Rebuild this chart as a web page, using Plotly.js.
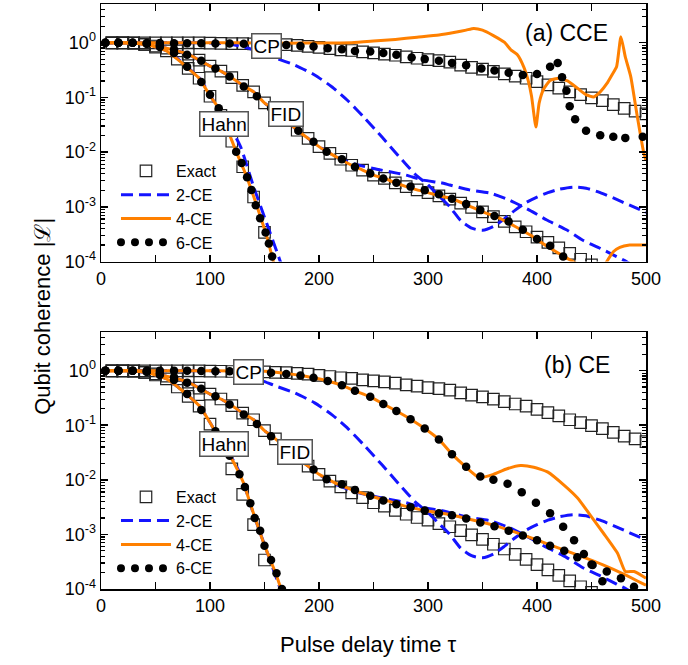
<!DOCTYPE html>
<html><head><meta charset="utf-8">
<script src="https://cdn.plot.ly/plotly-3.0.1.min.js"></script>
<style>
body{margin:0;background:#fff}
path.js-line[style*="rgb(1, 1, 1)"]{stroke-linecap:round !important;}
</style>
</head><body><div id="chart" style="width:688px;height:665px"></div>
<script>
// ---------- Exact (same in both panels) ----------
const tExactCP = [10,20,30,40,50,60,70,80,90,100,110,120,130,140,150,160,170,180,190,200,210,220,230,240,250,260,270,280,290,300,310,320,330,340,350,360,370,380,390,400,410,420,430,440,450,460,470,480,490,500];
const vExactCP = [0.99,0.99,0.99,0.99,0.99,0.99,0.99,0.99,0.99,0.98,0.975,0.965,0.96,0.955,0.945,0.93,0.92,0.89,0.86,0.82,0.78,0.74,0.72,0.68,0.65,0.62,0.59,0.55,0.52,0.49,0.47,0.44,0.39,0.355,0.33,0.30,0.27,0.245,0.224,0.195,0.17,0.148,0.126,0.112,0.098,0.087,0.074,0.063,0.056,0.05];
const tExactHahn = [10,20,30,40,50,60,70,80,90,100,110,120,130,140,150,160];
const vExactHahn = [0.99,0.99,0.98,0.933,0.832,0.708,0.501,0.339,0.224,0.105,0.0468,0.0158,5.4e-3,1.51e-3,3.4e-4,6.3e-5];
const tExactFID = [10,20,30,40,50,60,70,80,90,100,110,120,130,140,150,160,170,180,190,200,210,220,230,240,250,260,270,280,290,300,310,320,330,340,350,360,370,380,390,400,410,420,430,440,450];
const vExactFID = [0.99,0.99,0.98,0.933,0.871,0.794,0.708,0.617,0.479,0.372,0.302,0.229,0.166,0.126,0.0794,0.0562,0.038,0.0251,0.0178,0.0126,9.5e-3,7.4e-3,5.75e-3,4.7e-3,3.8e-3,3.3e-3,2.75e-3,2.34e-3,2.04e-3,1.82e-3,1.58e-3,1.38e-3,1.17e-3,9.8e-4,8.1e-4,6.6e-4,5.4e-4,4.3e-4,3.5e-4,2.8e-4,2.24e-4,1.78e-4,1.41e-4,1.1e-4,8.7e-5];

// ---------- 2-CE (same in both panels) ----------
const t2CP = [0,50,100,120,135,150,160,178,196,212,227,242,258,273,288,300,310,320,330,340,350,360,370,380,390,400,410,420,433,445,458,470,485,500];
const v2CP = [1,1,0.99,0.93,0.794,0.631,0.525,0.389,0.257,0.155,0.0851,0.0417,0.0186,8.5e-3,3.98e-3,2.51e-3,1.58e-3,1.0e-3,5.6e-4,4.07e-4,3.72e-4,4.37e-4,6.03e-4,8.7e-4,1.2e-3,1.51e-3,1.82e-3,2.09e-3,2.29e-3,2.19e-3,1.82e-3,1.45e-3,1.07e-3,7.9e-4];
const t2Hahn = [0,30,40,50,60,70,80,90,100,110,120,128,140,152,164,170];
const v2Hahn = [1,0.99,0.933,0.832,0.708,0.513,0.347,0.229,0.112,0.0501,0.0251,0.0126,2.34e-3,5.0e-4,1.07e-4,5.0e-5];
const t2FID = [0,30,40,50,60,70,80,90,100,110,120,130,140,150,160,170,180,190,200,215,233,250,265,280,295,312,320,338,357,375,393,409,427,442,458,473,482,490];
const v2FID = [1,0.99,0.933,0.871,0.794,0.708,0.617,0.479,0.372,0.302,0.229,0.166,0.126,0.0794,0.0562,0.038,0.0251,0.0178,0.0126,8.3e-3,6.03e-3,5.01e-3,4.37e-3,3.8e-3,3.09e-3,2.75e-3,2.51e-3,2.04e-3,1.78e-3,1.32e-3,8.7e-4,5.75e-4,3.8e-4,2.45e-4,1.74e-4,1.23e-4,1.0e-4,7.9e-5];

// ---------- (a) CCE: 4-CE ----------
const a4tCP = [0,100,150,170,200,230,250,270,290,310,325,335,342,350,360,370,376,382,388,392,395,399,402,406,412,420,428,437,445,452,458,464,469,473,477,481,486,492,498,500];
const a4vCP = [1,1,0.99,0.977,0.99,1.0,1.07,1.15,1.26,1.38,1.55,1.70,1.82,1.70,1.35,1.02,0.741,0.603,0.355,0.2,0.105,0.0288,0.0794,0.141,0.204,0.224,0.2,0.148,0.112,0.102,0.126,0.178,0.263,0.363,1.29,0.55,0.24,0.0447,9.5e-3,7.1e-3];
const a4tHahn = [0,30,40,50,60,70,80,90,100,108,116,124,131,138,145,151,157,160];
const a4vHahn = [1,0.99,0.933,0.832,0.708,0.501,0.339,0.224,0.107,0.0631,0.0263,0.0102,4.8e-3,2.04e-3,7.9e-4,3.4e-4,1.23e-4,7.1e-5];
const a4tFID = [0,30,40,50,60,70,80,90,100,110,120,130,140,150,160,170,180,190,200,210,220,230,240,250,260,270,280,290,300,310,320,335,350,365,380,395,410,425,433,445,452,458,464,470,476,485,500];
const a4vFID = [1,0.99,0.933,0.871,0.794,0.708,0.617,0.479,0.372,0.302,0.229,0.166,0.126,0.0794,0.0562,0.038,0.0251,0.0178,0.0126,9.5e-3,7.4e-3,5.75e-3,4.7e-3,3.8e-3,3.3e-3,2.75e-3,2.34e-3,2.04e-3,1.82e-3,1.58e-3,1.45e-3,1.1e-3,8.1e-4,6.3e-4,4.37e-4,2.95e-4,1.86e-4,1.23e-4,1.0e-4,7.1e-5,5.6e-5,6.3e-5,1.0e-4,1.51e-4,1.82e-4,2.0e-4,2.0e-4];

// ---------- (a) CCE: 6-CE ----------
const a6tCP = [4,16,29,42,54,67,79,92,105,118,131,143,156,170,183,195,208,221,233,247,259,271,285,297,310,322,335,349,361,374,387,400,412,419,423,427,430,435,445,458,470,481,497];
const a6vCP = [1,1,1,0.99,0.99,0.977,0.977,0.977,0.966,0.966,0.955,0.944,0.933,0.912,0.871,0.851,0.794,0.759,0.708,0.692,0.646,0.603,0.537,0.501,0.468,0.427,0.389,0.339,0.309,0.282,0.257,0.269,0.363,0.427,0.234,0.132,0.0692,0.0398,0.0245,0.0204,0.0191,0.0182,0.0191];
const a6tHahn = [4,16,29,42,54,67,79,92,100,108,116,124,129,134,138,142,146,151,154,157];
const a6vHahn = [1,1,1,0.955,0.832,0.646,0.363,0.191,0.112,0.0631,0.0251,0.0102,6.3e-3,3.47e-3,2.04e-3,1.07e-3,6.2e-4,3.4e-4,2.14e-4,1.23e-4];
const a6tFID = [4,16,29,42,54,67,79,92,105,118,131,143,156,169,181,195,207,221,233,247,259,271,284,297,310,322,335,348,361,374,387,400,412,424,437];
const a6vFID = [1,1,1,0.955,0.891,0.759,0.603,0.468,0.339,0.24,0.158,0.105,0.0631,0.0398,0.0245,0.0155,0.0102,7.4e-3,5.4e-3,4.07e-3,3.3e-3,2.75e-3,2.34e-3,2.0e-3,1.7e-3,1.41e-3,1.12e-3,8.7e-4,6.8e-4,5.4e-4,3.8e-4,2.57e-4,1.95e-4,1.23e-4,7.9e-5];

// ---------- (b) CE: 4-CE ----------
const b4tCP = [0,100,150,170,183,195,208,221,233,247,259,271,284,297,310,322,335,347,360,372,385,397,410,425,437,449,461,474,481,489,500];
const b4vCP = [1,1,0.977,0.891,0.813,0.741,0.646,0.537,0.427,0.331,0.245,0.182,0.129,0.0871,0.055,0.0295,0.017,0.011,0.0126,0.0158,0.0182,0.017,0.0138,7.9e-3,4.68e-3,2.24e-3,1.05e-3,4.47e-4,2.09e-4,2.09e-4,1.58e-4];
const b4tHahn = [0,30,40,50,60,70,80,90,100,110,120,130,140,150,160,166];
const b4vHahn = [1,0.99,0.933,0.832,0.708,0.513,0.347,0.229,0.112,0.0501,0.024,9.5e-3,2.4e-3,6.3e-4,2.0e-4,8.9e-5];
const b4tFID = [0,30,40,50,60,70,80,90,100,110,120,130,140,150,160,170,180,190,200,210,220,233,248,264,282,300,320,340,360,380,400,420,440,460,480,500];
const b4vFID = [1,0.99,0.933,0.871,0.794,0.708,0.617,0.479,0.372,0.302,0.229,0.166,0.126,0.0794,0.0562,0.038,0.0251,0.0178,0.0126,9.8e-3,7.9e-3,6.3e-3,5.0e-3,4.07e-3,3.16e-3,2.69e-3,2.29e-3,1.86e-3,1.48e-3,1.1e-3,7.9e-4,5.6e-4,4.0e-4,2.8e-4,1.86e-4,1.17e-4];

// ---------- (b) CE: 6-CE ----------
const b6tCP = [4,16,29,42,54,67,79,92,105,118,131,143,156,170,183,195,208,221,233,247,259,271,284,297,310,322,335,348,360,373,386,399,412,424,434,443,451,460];
const b6vCP = [1,1,1,1,1,1,1,0.989,0.977,0.977,0.955,0.933,0.912,0.871,0.813,0.741,0.646,0.537,0.427,0.331,0.245,0.182,0.129,0.0871,0.055,0.0295,0.0174,0.0115,0.01,8.5e-3,5.9e-3,3.8e-3,2.45e-3,1.38e-3,7.8e-4,4.37e-4,2.75e-4,1.38e-4];
const b6tHahn = [4,16,29,42,54,67,79,92,105,118,127,132,137,141,146,150,156,161,166];
const b6vHahn = [1,1,1,0.955,0.832,0.676,0.372,0.191,0.0776,0.0275,0.0126,7.4e-3,3.72e-3,2.0e-3,1.17e-3,6.2e-4,3.4e-4,1.95e-4,1.0e-4];
const b6tFID = [4,16,29,42,54,67,79,92,105,118,131,143,156,169,181,195,207,221,233,247,259,271,284,297,310,322,335,348,361,374,387,400,412,425,437,450,464,477,489];
const b6vFID = [1,1,1,0.955,0.891,0.759,0.603,0.468,0.339,0.24,0.158,0.105,0.0631,0.0398,0.0245,0.0155,0.0102,8.3e-3,6.5e-3,5.1e-3,4.17e-3,3.55e-3,3.16e-3,2.75e-3,2.45e-3,2.24e-3,1.95e-3,1.66e-3,1.41e-3,1.17e-3,9.5e-4,7.8e-4,6.2e-4,5.0e-4,3.8e-4,2.82e-4,2.09e-4,1.58e-4,1.1e-4];

const yTickVals = [1e-4,1e-3,1e-2,1e-1,1];
const yTickText = ['10<sup>-4</sup>','10<sup>-3</sup>','10<sup>-2</sup>','10<sup>-1</sup>','10<sup>0</sup>'];
const legendNames = ['Exact','2-CE','4-CE','6-CE'];

// ---------- styles ----------
const FONT = 'Arial, "Liberation Sans", sans-serif';
const BLUE = '#1414ff', ORANGE = '#ff8000';
const DOTBLACK = '#010101';
const styles = {
  exact: {mode:'markers', marker:{symbol:'square-open', size:11.5, color:'#222', line:{width:1.2}}},
  ce2: {mode:'lines', line:{color:BLUE, width:3, dash:'12px,6px', shape:'spline', smoothing:0.6}},
  ce4: {mode:'lines', line:{color:ORANGE, width:3, shape:'spline', smoothing:0.5}},
  ce6: {mode:'markers', marker:{symbol:'circle', size:8.5, color:'#000'}}
};

function trace(x, y, kind, panel, name, show) {
  const t = Object.assign({x:x, y:y, name:name, showlegend:!!show, hoverinfo:'skip'}, JSON.parse(JSON.stringify(styles[kind])));
  t.xaxis = panel === 'a' ? 'x' : 'x2';
  t.yaxis = panel === 'a' ? 'y' : 'y2';
  t.legend = panel === 'a' ? 'legend' : 'legend2';
  return t;
}
function dotLegend(panel) {
  return {x:[null], y:[null], mode:'lines', name:legendNames[3], showlegend:true,
    line:{color:DOTBLACK, width:8, dash:'0px,14px'},
    xaxis: panel === 'a' ? 'x' : 'x2', yaxis: panel === 'a' ? 'y' : 'y2',
    legend: panel === 'a' ? 'legend' : 'legend2'};
}

const data = [];
const panels = {
  a: {c4:[[a4tCP,a4vCP],[a4tHahn,a4vHahn],[a4tFID,a4vFID]], c6:[[a6tCP,a6vCP],[a6tHahn,a6vHahn],[a6tFID,a6vFID]]},
  b: {c4:[[b4tCP,b4vCP],[b4tHahn,b4vHahn],[b4tFID,b4vFID]], c6:[[b6tCP,b6vCP],[b6tHahn,b6vHahn],[b6tFID,b6vFID]]}
};
const exactSets = [[tExactCP,vExactCP],[tExactHahn,vExactHahn],[tExactFID,vExactFID]];
const ce2Sets = [[t2CP,v2CP],[t2Hahn,v2Hahn],[t2FID,v2FID]];
['a','b'].forEach(p => {
  exactSets.forEach((s,i) => data.push(trace(s[0], s[1], 'exact', p, legendNames[0], i===0)));
  ce2Sets.forEach((s,i) => data.push(trace(s[0], s[1], 'ce2', p, legendNames[1], i===0)));
  panels[p].c4.forEach((s,i) => data.push(trace(s[0], s[1], 'ce4', p, legendNames[2], i===0)));
  data.push(dotLegend(p));
  panels[p].c6.forEach((s,i) => data.push(trace(s[0], s[1], 'ce6', p, legendNames[3], false)));
});

const axX = {range:[0,500], dtick:100, tick0:0, ticks:'inside', ticklen:7, tickwidth:1.5, tickcolor:'#000',
  showline:true, linecolor:'#000', linewidth:1.5, mirror:'ticks', showgrid:false, zeroline:false,
  tickfont:{size:18, family:FONT, color:'#000'},
  minor:{dtick:50, tick0:0, ticks:'inside', ticklen:7, tickwidth:1.5, tickcolor:'#000', showgrid:false}};
const minorVals = [];
for (let e = -4; e <= 0; e++) for (let m = 2; m <= 9; m++) minorVals.push(m * Math.pow(10, e));
const axY = {type:'log', range:[-4, 0.7075], tickmode:'array', tickvals:yTickVals, ticktext:yTickText,
  ticks:'inside', ticklen:7, tickwidth:1.5, tickcolor:'#000',
  showline:true, linecolor:'#000', linewidth:1.5, mirror:'ticks', showgrid:false, zeroline:false,
  tickfont:{size:18, family:FONT, color:'#000'},
  minor:{tickmode:'array', tickvals:minorVals, ticks:'inside', ticklen:4, tickwidth:1.2, tickcolor:'#000', showgrid:false}};

function box(text, xr, yr, x, y) {
  return {text:text, xref:xr, yref:yr, x:x, y:y, showarrow:false, bgcolor:'#fff', bordercolor:'#555',
    borderwidth:1.5, borderpad:1, font:{size:19, family:FONT, color:'#000'}};
}
const annotations = [
  box('CP','x','y',152,-0.06), box('Hahn','x','y',113,-1.49), box('FID','x','y',170,-1.31),
  box('CP','x2','y2',135,-0.02), box('Hahn','x2','y2',113,-1.34), box('FID','x2','y2',178,-1.49),
  {text:'(a) CCE', xref:'x', yref:'y', x:427, y:0.17, showarrow:false, font:{size:23, family:FONT, color:'#000'}},
  {text:'(b) CE', xref:'x2', yref:'y2', x:437, y:0.095, showarrow:false, font:{size:23, family:FONT, color:'#000'}},
  {text:'Qubit coherence |ℒ|', xref:'paper', yref:'paper', x:-0.134, y:0.466, textangle:-90,
    showarrow:false, font:{size:22, family:FONT, color:'#000'}},
  {text:'Pulse delay time τ', xref:'paper', yref:'paper', x:0.49, y:-0.0957, yanchor:'middle',
    showarrow:false, font:{size:22, family:FONT, color:'#000'}}
];

const legendBase = {xanchor:'left', yanchor:'top', bgcolor:'rgba(0,0,0,0)', borderwidth:0,
  font:{size:16, family:FONT, color:'#000'}, itemwidth:50, tracegroupgap:0};

const layout = {
  width:688, height:665, margin:{l:101, r:42, t:4, b:76},
  paper_bgcolor:'#fff', plot_bgcolor:'#fff', font:{family:FONT, color:'#000'},
  showlegend:true,
  xaxis:Object.assign({domain:[0,1], anchor:'y'}, axX),
  yaxis:Object.assign({domain:[0.5598,1], anchor:'x'}, axY),
  xaxis2:Object.assign({domain:[0,1], anchor:'y2'}, axX),
  yaxis2:Object.assign({domain:[0,0.4393], anchor:'x2'}, axY),
  legend:Object.assign({x:0.0275, y:0.7435}, legendBase),
  legend2:Object.assign({x:0.0275, y:0.1865}, legendBase),
  annotations:annotations
};

function roundDots(gd) {
  gd.querySelectorAll('path.js-line').forEach(p => {
    if ((p.style.stroke || '').replace(/\s/g,'') === 'rgb(1,1,1)') p.style.strokeLinecap = 'round';
  });
}
Plotly.newPlot('chart', data, layout, {staticPlot:true, displayModeBar:false}).then(gd => {
  roundDots(gd);
  setTimeout(() => roundDots(gd), 50);
});
</script></body></html>
